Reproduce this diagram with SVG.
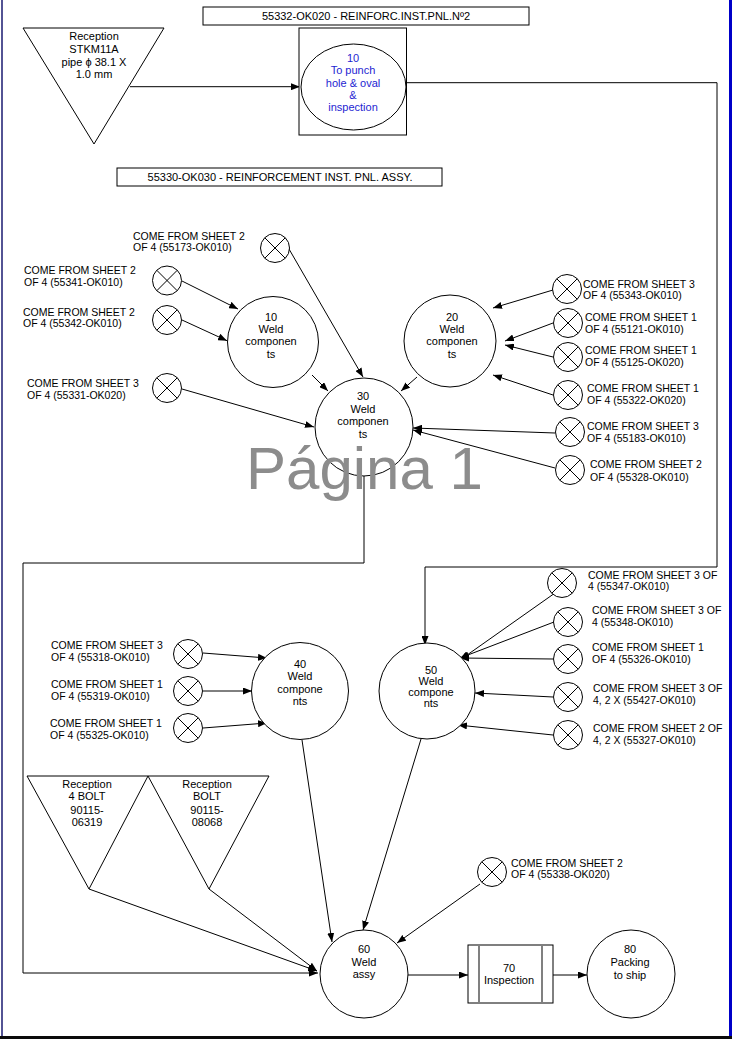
<svg xmlns="http://www.w3.org/2000/svg" xmlns:xlink="http://www.w3.org/1999/xlink" width="732" height="1039" viewBox="0 0 732 1039">
<style>
  text { font-family: "Liberation Sans", Arial, sans-serif; fill: #000; }
  .lbl { font-size: 10.5px; }
  .c { font-size: 11px; text-anchor: middle; }
  .blue { fill: #1e1ed2; }
  .shape { fill: #fff; stroke: #000; stroke-width: 1; }
  .conn path { fill: none; stroke: #000; stroke-width: 1; }
  .arr { marker-end: url(#ah); }
  .wm { font-size: 60px; fill: #8c8c8c; }
</style>
<defs>
  <marker id="ah" markerUnits="userSpaceOnUse" markerWidth="10" markerHeight="7" refX="9" refY="3.5" orient="auto">
    <path d="M0,0 L9,3.5 L0,7 z" fill="#000"/>
  </marker>
  <g id="xc">
    <circle cx="0" cy="0" r="14.5" fill="#fff" stroke="#000" stroke-width="1"/>
    <path d="M-10.25,-10.25 L10.25,10.25 M10.25,-10.25 L-10.25,10.25" stroke="#000" stroke-width="1"/>
  </g>
</defs>
<rect x="0" y="0" width="732" height="1039" fill="#fff"/>

<!-- connectors -->
<g id="connectors" class="conn">
  <path class="arr" d="M130,86.7 L300,86.7"/>
  <path class="arr" d="M406,82.7 H717 V567 H425 V645"/>
  <path class="arr" d="M182,281 L238,309"/>
  <path class="arr" d="M182,320 L227,340.7"/>
  <path class="arr" d="M289,249 L363,377"/>
  <path class="arr" d="M182,389 L314,427"/>
  <path class="arr" d="M312,375 L328,391"/>
  <path class="arr" d="M417,377 L401,391"/>
  <path class="arr" d="M553,290 L493,308"/>
  <path class="arr" d="M553,323 L505,341"/>
  <path class="arr" d="M553,357 L505,345"/>
  <path class="arr" d="M553,395 L493,375"/>
  <path class="arr" d="M555,433 L413,428"/>
  <path class="arr" d="M555,468 L413,430"/>
  <path class="arr" d="M364,476 V563 H23 V973 H318"/>
  <path class="arr" d="M203,653 L267,658"/>
  <path class="arr" d="M203,691 L252,691"/>
  <path class="arr" d="M203,728 L267,723"/>
  <path class="arr" d="M555,593 L460,660"/>
  <path class="arr" d="M554,622 L460,658"/>
  <path class="arr" d="M553,659 L460,658"/>
  <path class="arr" d="M553,697 L475,693"/>
  <path class="arr" d="M553,735 L458,725"/>
  <path class="arr" d="M302,740 L332,942"/>
  <path class="arr" d="M421,739 L363,930"/>
  <path class="arr" d="M89,889 L317,971"/>
  <path class="arr" d="M209,889 L317,971"/>
  <path class="arr" d="M480,884 L397,943"/>
  <path class="arr" d="M408,975 L468,975"/>
  <path class="arr" d="M553,975 L587,975"/>
</g>

<!-- titles -->
<g id="title1">
  <rect class="shape" x="203" y="7" width="326" height="18"/>
  <text class="c" x="366" y="20">55332-OK020 - REINFORC.INST.PNL.Nº2</text>
</g>
<g id="title2">
  <rect class="shape" x="117" y="168" width="325" height="18"/>
  <text class="c" x="280" y="181">55330-OK030 - REINFORCEMENT  INST. PNL. ASSY.</text>
</g>

<!-- reception pipe -->
<g id="rec-pipe">
  <path class="shape" d="M23,28 L164,28 L94,144 Z"/>
  <text class="c" x="94" y="40">Reception<tspan x="94" dy="12.5">STKM11A</tspan><tspan x="94" dy="13.5">pipe ϕ 38.1 X</tspan><tspan x="94" dy="12">1.0 mm</tspan></text>
</g>

<!-- op 10 punch -->
<g id="op10-punch">
  <rect class="shape" x="299" y="28" width="107.5" height="107"/>
  <ellipse class="shape" cx="353.5" cy="87" rx="52.5" ry="43"/>
  <text class="c blue" x="353" y="62">10<tspan x="353" dy="12.3">To punch</tspan><tspan x="353" dy="12.3">hole &amp; oval</tspan><tspan x="353" dy="12.3">&amp;</tspan><tspan x="353" dy="12.3">inspection</tspan></text>
</g>

<!-- welding operations -->
<g id="op10-weld">
  <circle class="shape" cx="273" cy="342" r="45.5"/>
  <text class="c" x="271" y="321">10<tspan x="271" dy="12.2">Weld</tspan><tspan x="271" dy="12.2">componen</tspan><tspan x="271" dy="12.2">ts</tspan></text>
</g>
<g id="op20-weld">
  <circle class="shape" cx="450" cy="341" r="46"/>
  <text class="c" x="452" y="321">20<tspan x="452" dy="12.2">Weld</tspan><tspan x="452" dy="12.2">componen</tspan><tspan x="452" dy="12.2">ts</tspan></text>
</g>
<g id="op30-weld">
  <circle class="shape" cx="364" cy="427" r="49"/>
  <text class="c" x="363" y="400">30<tspan x="363" dy="12.5">Weld</tspan><tspan x="363" dy="12.5">componen</tspan><tspan x="363" dy="12.5">ts</tspan></text>
</g>
<g id="op40-weld">
  <circle class="shape" cx="300" cy="691" r="48.5"/>
  <text class="c" x="300" y="668">40<tspan x="300" dy="12.3">Weld</tspan><tspan x="300" dy="12.3">compone</tspan><tspan x="300" dy="12.3">nts</tspan></text>
</g>
<g id="op50-weld">
  <circle class="shape" cx="427" cy="691" r="48"/>
  <text class="c" x="431" y="673.5">50<tspan x="431" dy="11">Weld</tspan><tspan x="431" dy="11">compone</tspan><tspan x="431" dy="11">nts</tspan></text>
</g>
<g id="op60-weld">
  <circle class="shape" cx="364" cy="974" r="44"/>
  <text class="c" x="364" y="953">60<tspan x="364" dy="12.5">Weld</tspan><tspan x="364" dy="12.5">assy</tspan></text>
</g>
<g id="op70-insp">
  <rect class="shape" x="468" y="945" width="85" height="58"/>
  <path d="M479,945 V1003 M542,945 V1003" stroke="#808080" stroke-width="2"/>
  <text class="c" x="509" y="972.3">70<tspan x="509" dy="11.7">Inspection</tspan></text>
</g>
<g id="op80-pack">
  <circle class="shape" cx="631" cy="974" r="44"/>
  <text class="c" x="630" y="953">80<tspan x="630" dy="12.8">Packing</tspan><tspan x="630" dy="12.8">to ship</tspan></text>
</g>

<!-- bolt receptions -->
<g id="rec-bolt1">
  <path class="shape" d="M27,776 L148,776 L89,889 Z"/>
  <text class="c" x="87" y="788">Reception<tspan x="87" dy="12">4 BOLT</tspan><tspan x="87" dy="13.5">90115-</tspan><tspan x="87" dy="12">06319</tspan></text>
</g>
<g id="rec-bolt2">
  <path class="shape" d="M148,776 L269,776 L209,889 Z"/>
  <text class="c" x="207" y="788">Reception<tspan x="207" dy="12">BOLT</tspan><tspan x="207" dy="13.5">90115-</tspan><tspan x="207" dy="12">08068</tspan></text>
</g>

<!-- off-sheet connectors -->
<g id="x55173"><use xlink:href="#xc" x="275" y="248"/><text class="lbl" x="133" y="239.5">COME FROM SHEET 2<tspan x="133" dy="11">OF 4 (55173-OK010)</tspan></text></g>
<g id="x55341"><use xlink:href="#xc" x="167" y="280.5"/><text class="lbl" x="24" y="274">COME FROM SHEET 2<tspan x="24" dy="12">OF 4 (55341-OK010)</tspan></text></g>
<g id="x55342"><use xlink:href="#xc" x="167" y="320"/><text class="lbl" x="23" y="315.5">COME FROM SHEET 2<tspan x="23" dy="11.5">OF 4 (55342-OK010)</tspan></text></g>
<g id="x55331"><use xlink:href="#xc" x="167" y="388"/><text class="lbl" x="27" y="387">COME FROM SHEET 3<tspan x="27" dy="12">OF 4 (55331-OK020)</tspan></text></g>
<g id="x55343"><use xlink:href="#xc" x="567" y="289"/><text class="lbl" x="583" y="288">COME FROM SHEET 3<tspan x="583" dy="11">OF 4 (55343-OK010)</tspan></text></g>
<g id="x55121"><use xlink:href="#xc" x="568" y="323"/><text class="lbl" x="585" y="320.5">COME FROM SHEET 1<tspan x="585" dy="12.2">OF 4 (55121-OK010)</tspan></text></g>
<g id="x55125"><use xlink:href="#xc" x="568" y="357"/><text class="lbl" x="585" y="354">COME FROM SHEET 1<tspan x="585" dy="11.5">OF 4 (55125-OK020)</tspan></text></g>
<g id="x55322"><use xlink:href="#xc" x="568" y="395"/><text class="lbl" x="587" y="392">COME FROM SHEET 1<tspan x="587" dy="12">OF 4 (55322-OK020)</tspan></text></g>
<g id="x55183"><use xlink:href="#xc" x="570" y="432"/><text class="lbl" x="587" y="429.5">COME FROM SHEET 3<tspan x="587" dy="12.5">OF 4 (55183-OK010)</tspan></text></g>
<g id="x55328"><use xlink:href="#xc" x="570" y="470"/><text class="lbl" x="590" y="468">COME FROM SHEET 2<tspan x="590" dy="12.5">OF 4 (55328-OK010)</tspan></text></g>
<g id="x55347"><use xlink:href="#xc" x="562" y="583"/><text class="lbl" x="588" y="579">COME FROM SHEET 3 OF<tspan x="588" dy="11">4 (55347-OK010)</tspan></text></g>
<g id="x55348"><use xlink:href="#xc" x="568" y="622"/><text class="lbl" x="592" y="614">COME FROM SHEET 3 OF<tspan x="592" dy="11.5">4 (55348-OK010)</tspan></text></g>
<g id="x55326"><use xlink:href="#xc" x="568" y="659"/><text class="lbl" x="592" y="651">COME FROM SHEET 1<tspan x="592" dy="12">OF 4 (55326-OK010)</tspan></text></g>
<g id="x55427"><use xlink:href="#xc" x="568" y="697"/><text class="lbl" x="593" y="692">COME FROM SHEET 3 OF<tspan x="593" dy="12">4, 2 X (55427-OK010)</tspan></text></g>
<g id="x55327"><use xlink:href="#xc" x="568" y="735"/><text class="lbl" x="593" y="732">COME FROM SHEET 2 OF<tspan x="593" dy="12">4, 2 X (55327-OK010)</tspan></text></g>
<g id="x55318"><use xlink:href="#xc" x="188" y="654"/><text class="lbl" x="51" y="649">COME FROM SHEET 3<tspan x="51" dy="11.5">OF 4 (55318-OK010)</tspan></text></g>
<g id="x55319"><use xlink:href="#xc" x="188" y="691"/><text class="lbl" x="51" y="688">COME FROM SHEET 1<tspan x="51" dy="12">OF 4 (55319-OK010)</tspan></text></g>
<g id="x55325"><use xlink:href="#xc" x="188" y="728"/><text class="lbl" x="50" y="727">COME FROM SHEET 1<tspan x="50" dy="12">OF 4 (55325-OK010)</tspan></text></g>
<g id="x55338"><use xlink:href="#xc" x="492" y="872"/><text class="lbl" x="511" y="866.5">COME FROM SHEET 2<tspan x="511" dy="11.5">OF 4 (55338-OK020)</tspan></text></g>

<!-- watermark -->
<text class="wm" x="246" y="489">Página 1</text>

<!-- page frame -->
<line x1="2" y1="0" x2="2" y2="1037" stroke="#1a1a70" stroke-width="1.5"/>
<rect x="729" y="0" width="3" height="1036" fill="#0000c8"/>
<rect x="0" y="1036" width="732" height="3" fill="#0a0a0a"/>
</svg>
